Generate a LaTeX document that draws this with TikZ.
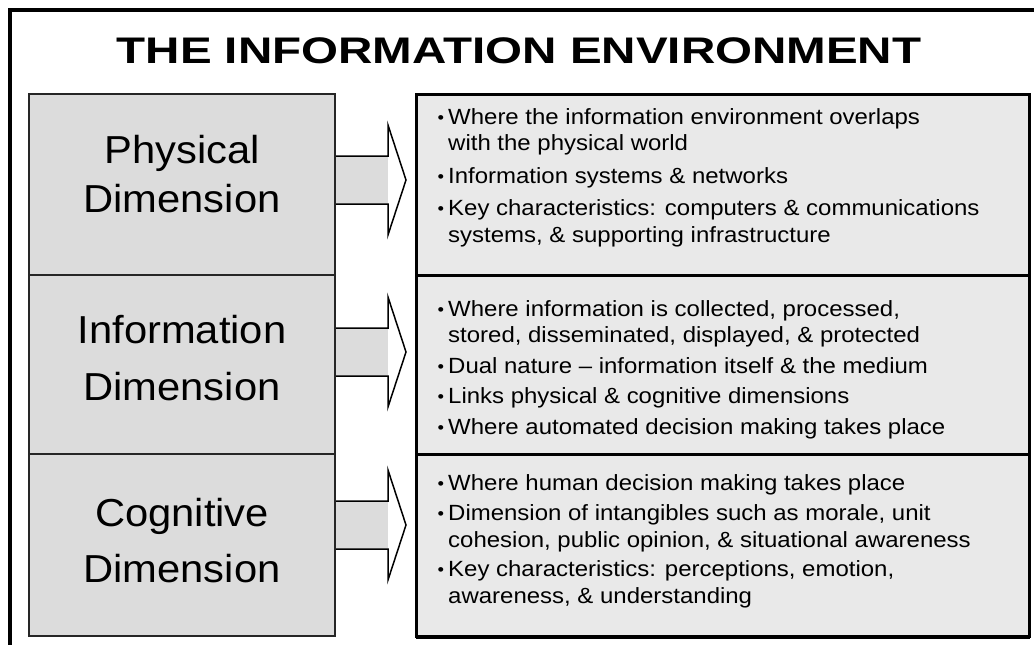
\documentclass[tikz,border=0pt]{standalone}
\usepackage{fontspec}
\setmainfont{Liberation Sans}
\newfontfamily\titlefont[FakeStretch=1.285]{Liberation Sans}
\newfontfamily\dimfont[FakeStretch=1.07]{Liberation Sans}
\newfontfamily\listfont[FakeStretch=1.09]{Liberation Sans}
\definecolor{dimgray}{HTML}{DCDCDC}
\definecolor{listgray}{HTML}{E9E9E9}
\newcommand{\bul}{\llap{\raisebox{1pt}{\fontsize{17}{17}\selectfont\textbullet}\hspace{4pt}}}
\tikzset{
	dimbox/.style={draw=black!85,line width=2,fill=dimgray,minimum width=306,inner sep=0,anchor=north west},
	listbox/.style={draw=black,line width=3,fill=listgray,minimum width=613,inner sep=0,anchor=north west},
	dimlabel/.style={font=\dimfont\fontsize{39}{49}\selectfont,align=center,inner sep=0,anchor=base},
	listtext/.style={font=\listfont\fontsize{22}{26.5}\selectfont,align=left,inner sep=0,anchor=base west},
	blockarrow/.style={line width=1.5,line join=miter}
}
\begin{document}
\begin{tikzpicture}[x=1pt,y=-1pt]
	\useasboundingbox (0,0) rectangle (1034,645);
	\draw[line width=3.5] (10,645)--(10,10)--(1034,10);
	\node[font=\titlefont\bfseries\fontsize{37}{37}\selectfont,anchor=base] (title) at (519,63) {THE INFORMATION ENVIRONMENT};
	% shadow of the right column
	\fill (416,96) rectangle (1030,639);
	\foreach \n/\t/\b/\a/\f/\g/\w in {phys/93/274/180/212/0/Physical,info/274/453/352/400/8/Information,cogn/453/635/525/582/7/Cognitive}{
		\node[dimbox,minimum height=\b-\t] (\n) at (28,\t) {};
		\node[listbox,minimum height=\b-\t] (\n L) at (415,\t) {};
		\node[dimlabel] (\n T) at (182,\f) {\w\\[\g pt]Dimension};
		\fill[white] (\n.east |- 0,\a) ++(0,-24) -- ++(52,0) -- ++(0,-31) -- ++(18,55) -- ++(-18,55) -- ++(0,-31) -- ++(-52,0) -- cycle;
		\fill[dimgray] (\n.east |- 0,\a) ++(0,-24) rectangle ++(52,48);
		\draw[blockarrow] (\n.east |- 0,\a) ++(0,-24) -- ++(52,0) -- ++(0,-31) -- ++(18,55) -- ++(-18,55) -- ++(0,-31) -- ++(-52,0);
	}
	\node[listtext] (physX) at (448,242) {\bul Where the information environment overlaps\\with the physical world\\[6pt]\bul Information systems \& networks\\[6pt]\bul Key characteristics: computers \& communications\\systems, \& supporting infrastructure};
	\node[listtext] (infoX) at (448,434) {\bul Where information is collected, processed,\\stored, disseminated, displayed, \& protected\\[4pt]\bul Dual nature – information itself \& the medium\\[4pt]\bul Links physical \& cognitive dimensions\\[4pt]\bul Where automated decision making takes place};
	\node[listtext] (cognX) at (448,603) {\bul Where human decision making takes place\\[4pt]\bul Dimension of intangibles such as morale, unit\\cohesion, public opinion, \& situational awareness\\[3pt]\bul Key characteristics: perceptions, emotion,\\awareness, \& understanding};
\end{tikzpicture}
\end{document}
